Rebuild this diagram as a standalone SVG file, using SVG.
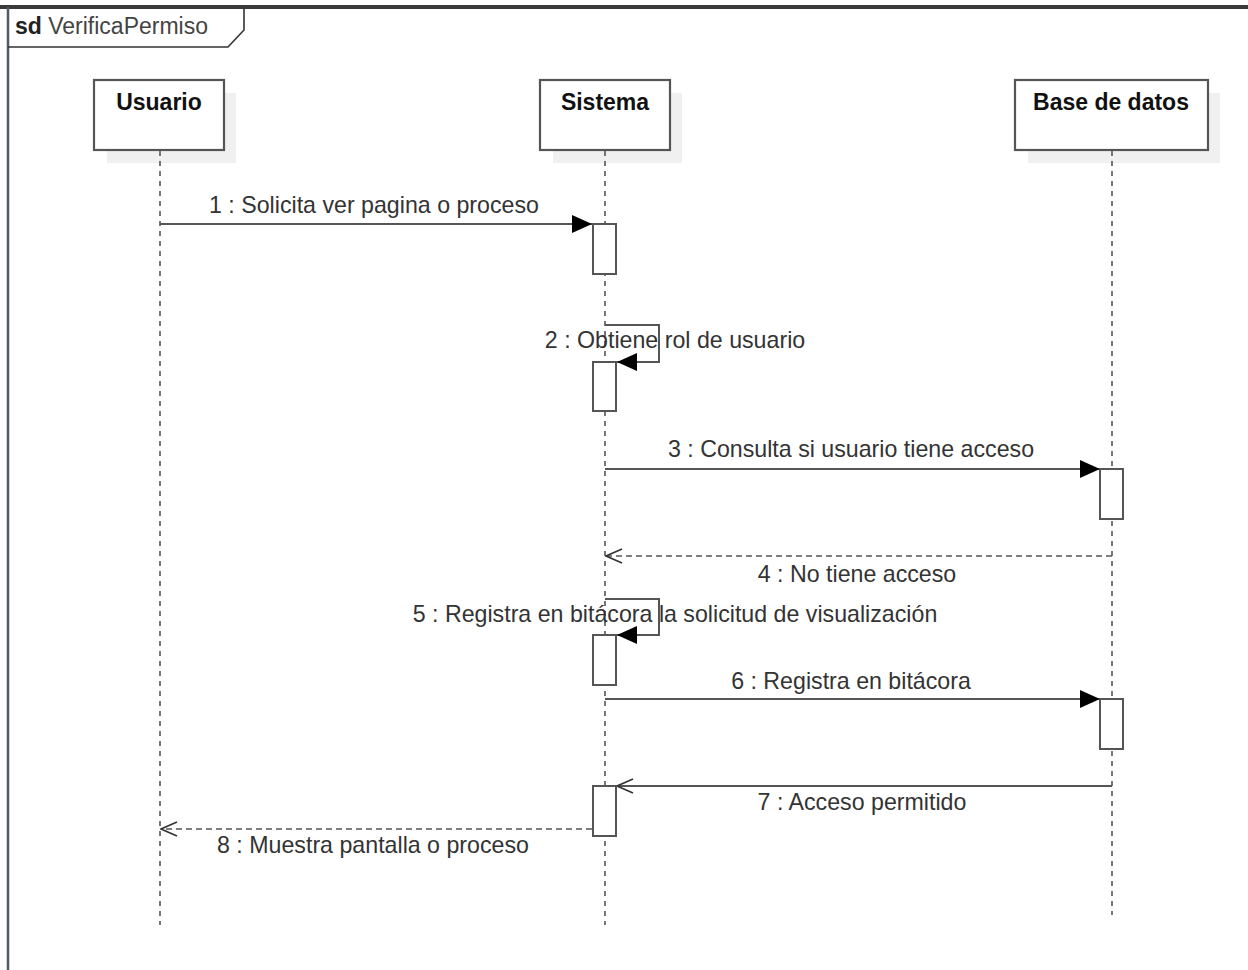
<svg xmlns="http://www.w3.org/2000/svg" width="1248" height="970" viewBox="0 0 1248 970">
  <style>
    .shadow { fill: #f0f0f0; stroke: none; }
    .head { fill: #ffffff; stroke: #555555; stroke-width: 2.2; }
    .name { font-family: "Liberation Sans", Arial, sans-serif; font-size: 23px; font-weight: bold; fill: #111111; text-anchor: middle; }
    .life { stroke: #555555; stroke-width: 1.6; stroke-dasharray: 5 5; fill: none; }
    .act { fill: #ffffff; stroke: #555555; stroke-width: 2; }
    .msg { stroke: #555555; stroke-width: 2; fill: none; }
    .ret { stroke: #555555; stroke-width: 1.6; stroke-dasharray: 6 4; fill: none; }
    .lbl { font-family: "Liberation Sans", Arial, sans-serif; font-size: 23.2px; fill: #333333; text-anchor: middle; }
  </style>
  <defs>
    <marker id="filled" viewBox="0 0 20 18" refX="20" refY="9" markerWidth="20" markerHeight="18" markerUnits="userSpaceOnUse" orient="auto">
      <path d="M0,0 L20,9 L0,18 Z" fill="#000000"/>
    </marker>
    <marker id="open" viewBox="0 0 18 16" refX="17" refY="8" markerWidth="18" markerHeight="16" markerUnits="userSpaceOnUse" orient="auto">
      <path d="M1,1 L17,8 L1,15" fill="none" stroke="#333333" stroke-width="1.6"/>
    </marker>
  </defs>

  <rect width="1248" height="970" fill="#ffffff"/>

  <!-- frame -->
  <g id="frame">
    <rect x="0" y="5" width="1248" height="4" fill="#3a3a3a"/>
    <line x1="8" y1="7" x2="8" y2="970" stroke="#505a6a" stroke-width="2.5"/>
    <path d="M8,47 L228,47 L244,30 L244,8" fill="none" stroke="#333333" stroke-width="1.6"/>
    <text x="15" y="34" font-family="Liberation Sans, Arial, sans-serif" font-size="23" fill="#222222"><tspan font-weight="bold">sd</tspan> <tspan fill="#444444">VerificaPermiso</tspan></text>
  </g>

  <!-- lifelines -->
  <g id="usuario">
    <rect class="shadow" x="107" y="93" width="129" height="70"/>
    <rect class="head" x="94" y="80" width="130" height="70"/>
    <text class="name" x="159" y="110">Usuario</text>
    <line class="life" x1="160" y1="151" x2="160" y2="925"/>
  </g>
  <g id="sistema">
    <rect class="shadow" x="553" y="93" width="129" height="70"/>
    <rect class="head" x="540" y="80" width="130" height="70"/>
    <text class="name" x="605" y="110">Sistema</text>
    <line class="life" x1="605" y1="151" x2="605" y2="925"/>
  </g>
  <g id="basedatos">
    <rect class="shadow" x="1028" y="93" width="192" height="70"/>
    <rect class="head" x="1015" y="80" width="193" height="70"/>
    <text class="name" x="1111" y="110">Base de datos</text>
    <line class="life" x1="1112" y1="151" x2="1112" y2="915"/>
  </g>

  <!-- connectors -->
  <g id="connectors">
    <!-- 1 -->
    <line class="msg" x1="160" y1="224" x2="592" y2="224" marker-end="url(#filled)"/>
    <text class="lbl" x="374" y="213">1 : Solicita ver pagina o proceso</text>
    <!-- 2 -->
    <path class="msg" d="M605,325 L659,325 L659,362 L617,362" marker-end="url(#filled)"/>
    <text class="lbl" x="675" y="348">2 : Obtiene rol de usuario</text>
    <!-- 3 -->
    <line class="msg" x1="605" y1="469" x2="1100" y2="469" marker-end="url(#filled)"/>
    <text class="lbl" x="851" y="457">3 : Consulta si usuario tiene acceso</text>
    <!-- 4 -->
    <line class="ret" x1="1112" y1="556" x2="606" y2="556" marker-end="url(#open)"/>
    <text class="lbl" x="857" y="582">4 : No tiene acceso</text>
    <!-- 5 -->
    <path class="msg" d="M605,599 L659,599 L659,635 L617,635" marker-end="url(#filled)"/>
    <text class="lbl" x="675" y="622">5 : Registra en bitácora la solicitud de visualización</text>
    <!-- 6 -->
    <line class="msg" x1="605" y1="699" x2="1100" y2="699" marker-end="url(#filled)"/>
    <text class="lbl" x="851" y="689">6 : Registra en bitácora</text>
    <!-- 7 -->
    <line class="msg" x1="1112" y1="786" x2="617" y2="786" marker-end="url(#open)"/>
    <text class="lbl" x="862" y="810">7 : Acceso permitido</text>
    <!-- 8 -->
    <line class="ret" x1="592" y1="829" x2="161" y2="829" marker-end="url(#open)"/>
    <text class="lbl" x="373" y="853">8 : Muestra pantalla o proceso</text>
  </g>

  <!-- activation bars -->
  <g id="activations">
    <rect class="act" x="593" y="224" width="23" height="50"/>
    <rect class="act" x="593" y="362" width="23" height="49"/>
    <rect class="act" x="1100" y="469" width="23" height="50"/>
    <rect class="act" x="593" y="635" width="23" height="50"/>
    <rect class="act" x="1100" y="699" width="23" height="50"/>
    <rect class="act" x="593" y="786" width="23" height="50"/>
  </g>
</svg>
